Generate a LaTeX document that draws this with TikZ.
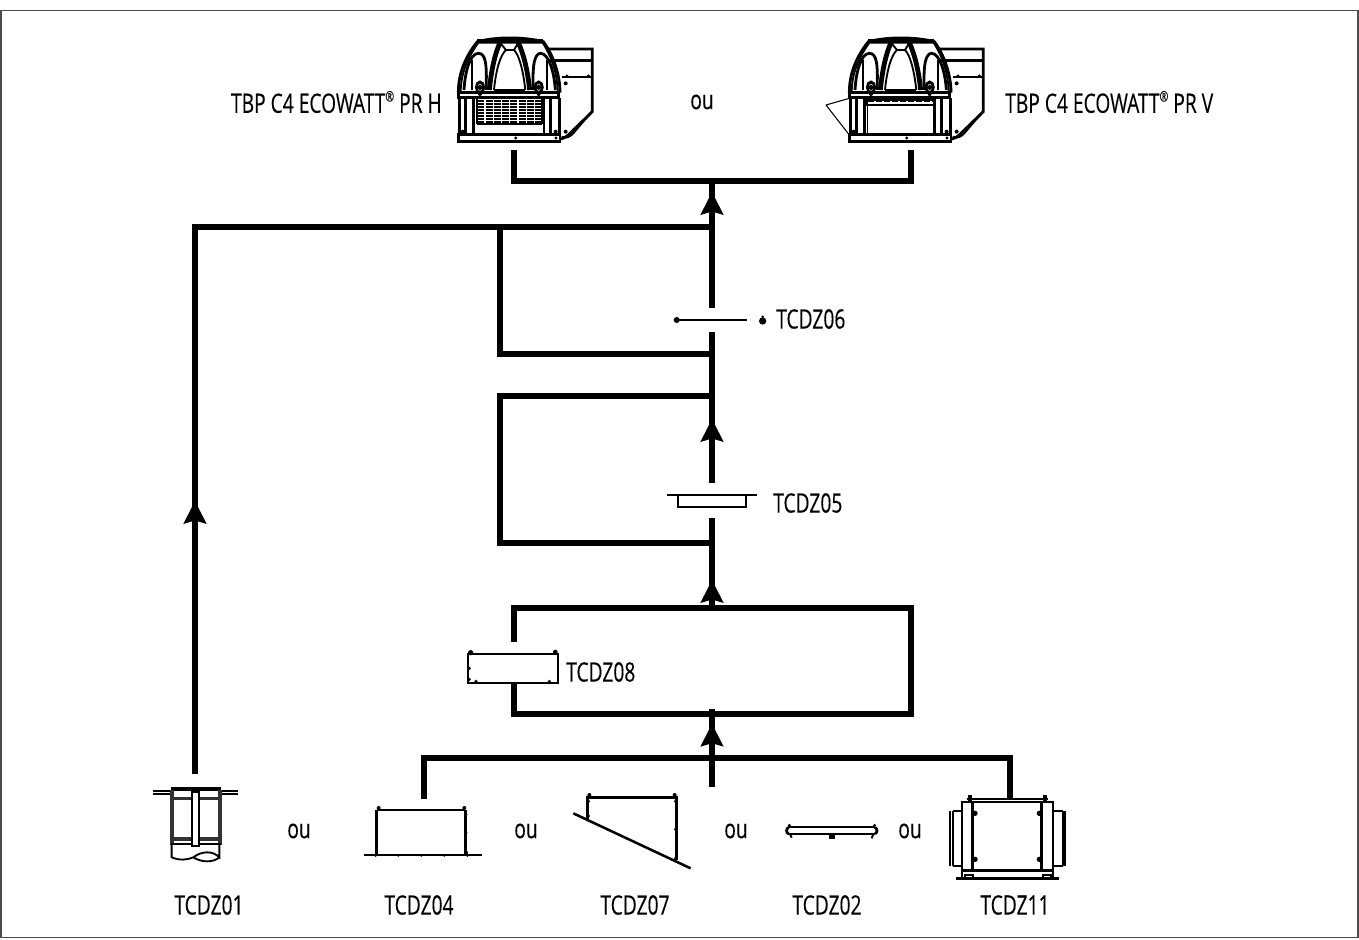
\documentclass[tikz,border=0pt]{standalone}
\usepackage{fontspec}
\setmainfont[FakeStretch=0.72,FakeBold=0.25]{Open Sans}
\newcommand{\regmark}{\raisebox{0.42em}{\fontsize{11}{11}\selectfont ®}}
\begin{document}
\begin{tikzpicture}[x=0.75pt,y=-0.75pt,
  wire/.style={line width=4.8pt,line cap=butt,line join=miter},
  lbl/.style={font=\fontsize{20}{24}\selectfont,inner sep=0pt,text=black},
  thn/.style={line width=0.8pt},
  med/.style={line width=1.4pt},
  thk/.style={line width=2.1pt},
  hvy/.style={line width=3pt},
  flowhead/.pic={\fill[black] (0,0) -- (11.7,23) -- (0,19.5) -- (-11.7,23) -- cycle;}]
\useasboundingbox (0,0) rectangle (1359,939);
\draw[line width=1.2pt,black!70] (1,10.5) rectangle (1358,937.5);

% junction points
\coordinate (fanL) at (514,150); \coordinate (fanLb) at (514,181);
\coordinate (fanR) at (911,150); \coordinate (fanRb) at (911,181);
\coordinate (top) at (712,181);
\coordinate (j1) at (712,227); \coordinate (j1b) at (500,227); \coordinate (j1c) at (195,227);
\coordinate (s01) at (195,774);
\coordinate (d6a) at (712,308); \coordinate (d6b) at (712,332);
\coordinate (j2) at (712,354); \coordinate (j2b) at (500,354);
\coordinate (j3) at (712,396); \coordinate (j3b) at (500,396);
\coordinate (j4b) at (500,543); \coordinate (j4) at (712,543);
\coordinate (d5a) at (712,483); \coordinate (d5b) at (712,518);
\coordinate (box1) at (712,608); \coordinate (boxTL) at (514,608); \coordinate (boxTR) at (911,608);
\coordinate (boxBR) at (911,714); \coordinate (boxBL) at (514,714); \coordinate (box2) at (712,709);
\coordinate (s8a) at (514,642); \coordinate (s8b) at (514,684);
\coordinate (busL) at (424,758); \coordinate (busR) at (1010,758);
\coordinate (s04) at (424,799); \coordinate (s07) at (712,787); \coordinate (s11) at (1010,799);

\draw[wire] (fanL) -- (fanLb) -- (fanRb) -- (fanR);
\draw[wire] (top) -- (d6a);
\draw[wire] (d6b) -- (d5a);
\draw[wire] (d5b) -- (box1);
\draw[wire] (s01) -- (j1c) -- (j1);
\draw[wire] (j1b) -- (j2b) -- (j2);
\draw[wire] (j3) -- (j3b) -- (j4b) -- (j4);
\draw[wire] (s8a) -- (boxTL) -- (boxTR) -- (boxBR) -- (boxBL) -- (s8b);
\draw[wire] (box2) -- (s07);
\draw[wire] (s04) -- (busL) -- (busR) -- (s11);

\pic at (712,192) {flowhead};
\pic at (195,501) {flowhead};
\pic at (712,419) {flowhead};
\pic at (712,580) {flowhead};
\pic at (712,723.7) {flowhead};

% --- Fan H
\begin{scope}[shift={(420,0)},scale=1/3]
  \foreach \yy in {303,312,321,330,339,348,357,366}
    \draw[line width=1.2pt,dash pattern=on 5.2pt off 1pt] (172,\yy) -- (365,\yy);
  \foreach \xx in {172,365} \draw[med] (\xx,298) -- (\xx,372);
  \draw[med] (172,372) -- (365,372);
\end{scope}
% --- Fan V details
\begin{scope}[shift={(810,0)},scale=1/3]
  \draw[thn] (48,315) -- (118,295) (48,315) -- (118,405);
  \draw[med] (172,300) rectangle (372,315);
  \draw[line width=1pt,dash pattern=on 4pt off 2pt] (175,303) -- (370,303);
  \draw[thn] (172,315) -- (172,402) (372,315) -- (372,402);
\end{scope}
% --- Fan common
\foreach \ox in {420,811}{
\begin{scope}[shift={(\ox,0)},scale=1/3]
  % base
  \draw[thk] (115,403) rectangle (420,424);
  \fill (287,414) circle (5) (408,414) circle (5) (128,395) circle (6) (407,395) circle (6);
  % legs
  \draw[thk] (118,295) -- (118,403) (137,295) -- (137,403) (160,295) -- (160,403)
             (372,295) -- (372,403) (392,295) -- (392,403) (418,295) -- (418,403);
  % band
  \draw[thk,fill=white] (115,278) -- (415,278) -- (415,293) -- (115,293) -- cycle;
  \draw[line width=2.4pt] (125,293) -- (408,293);
  % dome outer
  \draw[thk] (115,278) .. controls (115,215) and (140,165) .. (172,125)
             .. controls (230,110) and (310,110) .. (370,125)
             .. controls (400,165) and (420,225) .. (420,278);
  \draw[med] (122,278) .. controls (122,218) and (145,170) .. (175,128) -- (368,128)
             .. controls (395,170) and (413,225) .. (413,278);
  \draw[thk] (172,122) -- (370,122);
  % centre arch
  \draw[line width=3.6pt] (208,270) .. controls (214,210) and (225,160) .. (240,128);
  \draw[line width=3.6pt] (329,270) .. controls (323,210) and (310,160) .. (295,128);
  \draw[med] (222,270) .. controls (227,215) and (240,165) .. (258,150) -- (282,150)
             .. controls (298,165) and (310,215) .. (316,270);
  \draw[thk] (258,150) -- (282,150);
  \draw[med] (240,128) -- (258,150) (295,128) -- (282,150);
  \draw[med] (222,270) -- (316,270);
  % side arches
  \draw[thk] (132,270) .. controls (135,215) and (150,160) .. (175,160)
             .. controls (195,160) and (202,185) .. (198,270);
  \draw[thk] (340,270) .. controls (336,190) and (345,160) .. (362,160)
             .. controls (385,160) and (403,215) .. (406,270);
  \draw[med] (157,180) -- (157,270) (380,180) -- (380,270);
  % knobs
  \foreach \kx in {180,356}{
    \draw[thk,fill=white] (\kx,262) ellipse (11 and 16);
    \draw[med,fill=white] (\kx,262) circle (5);
    \fill (\kx,282) circle (6);
  }
  % right box
  \draw[thk] (385,147) -- (517,147) -- (517,335) -- (455,395) .. controls (445,405) and (440,412) .. (420,418);
  \draw[med] (515,335) -- (460,400) .. controls (448,412) and (440,416) .. (425,410);
  \draw[thk] (385,182) -- (517,182);
  \draw[med] (425,232) -- (517,232);
  \fill (437,250) circle (6) (441,228) circle (5) (505,228) circle (5) (437,395) circle (6);
\end{scope}}

% --- TCDZ06 damper
\begin{scope}[shift={(650,300)},scale=1/3]
  \draw[line width=1.6pt] (80,60) -- (290,60);
  \fill (80,60) circle (9);
  \fill (338,63) circle (11) (338,50) circle (4);
\end{scope}
% --- TCDZ05
\begin{scope}[shift={(650,480)},scale=1/3]
  \draw[med] (85,45) rectangle (288,80);
  \draw[thk] (52,45) -- (322,45);
\end{scope}
% --- TCDZ08
\begin{scope}[shift={(450,640)},scale=1/3]
  \draw[med] (53,42) rectangle (325,130);
  \fill (62,38) circle (8) (316,36) circle (7) (58,85) circle (5) (58,118) circle (5) (78,124) circle (5) (298,124) circle (5);
\end{scope}
% --- TCDZ01
\begin{scope}[shift={(130,770)},scale=1/3]
  \draw[med] (68,63) -- (122,63) (68,72) -- (122,72) (272,63) -- (325,63) (272,72) -- (325,72);
  \draw[hvy] (122,58) -- (272,58);
  \draw[line width=1.6pt,black!80] (122,60) -- (122,225) (130,60) -- (130,225) (266,60) -- (266,225) (274,60) -- (274,225);
  \draw[line width=2.6pt,black!80] (122,86) -- (274,86) (122,207) -- (274,207);
  \draw[med] (122,222) -- (274,222);
  \draw[med,fill=white] (187,66) rectangle (207,228);
  \draw[med] (125,225) -- (125,262) .. controls (150,272) and (170,270) .. (190,262)
     .. controls (215,242) and (250,242) .. (268,262) -- (268,225);
  \draw[med] (190,262) .. controls (215,278) and (250,278) .. (268,262);
\end{scope}
% --- TCDZ04
\begin{scope}[shift={(130,770)},scale=1/3]
  \draw[thk] (740,255) -- (740,120);
  \draw[med] (740,120) -- (1005,120);
  \draw[thk] (1007,120) -- (1007,255);
  \draw[med] (703,256) -- (1055,256);
  \fill (746,114) circle (6) (1003,114) circle (6) (1008,134) circle (5) (1008,188) circle (5) (1008,248) circle (6)
        (737,256) circle (5) (805,256) circle (4.5) (874,256) circle (4.5) (943,256) circle (4.5) (1012,256) circle (5);
\end{scope}
% --- TCDZ07
\begin{scope}[shift={(560,770)},scale=1/3]
  \draw[line width=1.9pt] (40,130) -- (392,295);
  \draw[thk] (82,150) -- (82,83) -- (350,83) -- (350,270);
  \fill (88,75) circle (6) (344,75) circle (6) (86,94) circle (4.5) (86,138) circle (4.5) (346,94) circle (4.5) (346,178) circle (4.5) (346,265) circle (4.5);
\end{scope}
% --- TCDZ02
\begin{scope}[shift={(770,770)},scale=1/3]
  \draw[med] (55,172) -- (315,172);
  \draw[thk] (55,192) -- (315,192);
  \draw[thk] (55,172) .. controls (48,178) and (48,186) .. (55,192);
  \draw[thk] (315,172) .. controls (323,178) and (323,186) .. (315,192);
  \fill (58,166) circle (5) (314,166) circle (5);
  \fill (177,192) rectangle (195,206);
  \draw[med] (60,192) -- (65,203) (310,192) -- (305,205);
\end{scope}
% --- TCDZ11
\begin{scope}[shift={(770,770)},scale=1/3]
  \draw[med] (575,95) rectangle (850,325);
  \draw[thk] (608,95) -- (608,302) (815,95) -- (815,302);
  \draw[thk] (575,302) -- (850,302);
  \draw[med] (590,87) -- (835,87);
  \draw[med] (598,75) -- (598,95) (603,75) -- (603,95) (822,75) -- (822,95) (827,75) -- (827,95);
  \draw[med] (575,122) -- (548,122) (575,288) -- (548,288) (850,122) -- (878,122) (850,288) -- (878,288);
  \draw[line width=2.2pt] (540,122) -- (540,288) (885,122) -- (885,288);
  \draw[med] (548,122) -- (548,288) (878,122) -- (878,288);
  \fill (615,130) circle (8) (808,130) circle (8) (615,268) circle (8) (808,268) circle (8);
  \draw[thk] (558,325) -- (868,325);
  \draw[med] (585,316) rectangle (608,325) (818,316) rectangle (842,325);
\end{scope}

% --- texts
\node[lbl,anchor=east] (tH) at (442,102) {TBP C4 ECOWATT\regmark{} PR H};
\node[lbl] (ou0) at (702,102) {ou};
\node[lbl,anchor=west] (tV) at (1005,102) {TBP C4 ECOWATT\regmark{} PR V};
\node[lbl,anchor=west] (t6) at (776,319) {TCDZ06};
\node[lbl,anchor=west] (t5) at (773,503) {TCDZ05};
\node[lbl,anchor=west] (t8) at (566,672) {TCDZ08};
\node[lbl] (t01) at (209,905) {TCDZ01};
\node[lbl] (t04) at (419,905) {TCDZ04};
\node[lbl] (t07) at (635,905) {TCDZ07};
\node[lbl] (t02) at (827,905) {TCDZ02};
\node[lbl] (t11) at (1015,905) {TCDZ11};
\node[lbl] (ou1) at (299,831) {ou};
\node[lbl] (ou2) at (526,831) {ou};
\node[lbl] (ou3) at (736,831) {ou};
\node[lbl] (ou4) at (910,831) {ou};
\end{tikzpicture}
\end{document}
